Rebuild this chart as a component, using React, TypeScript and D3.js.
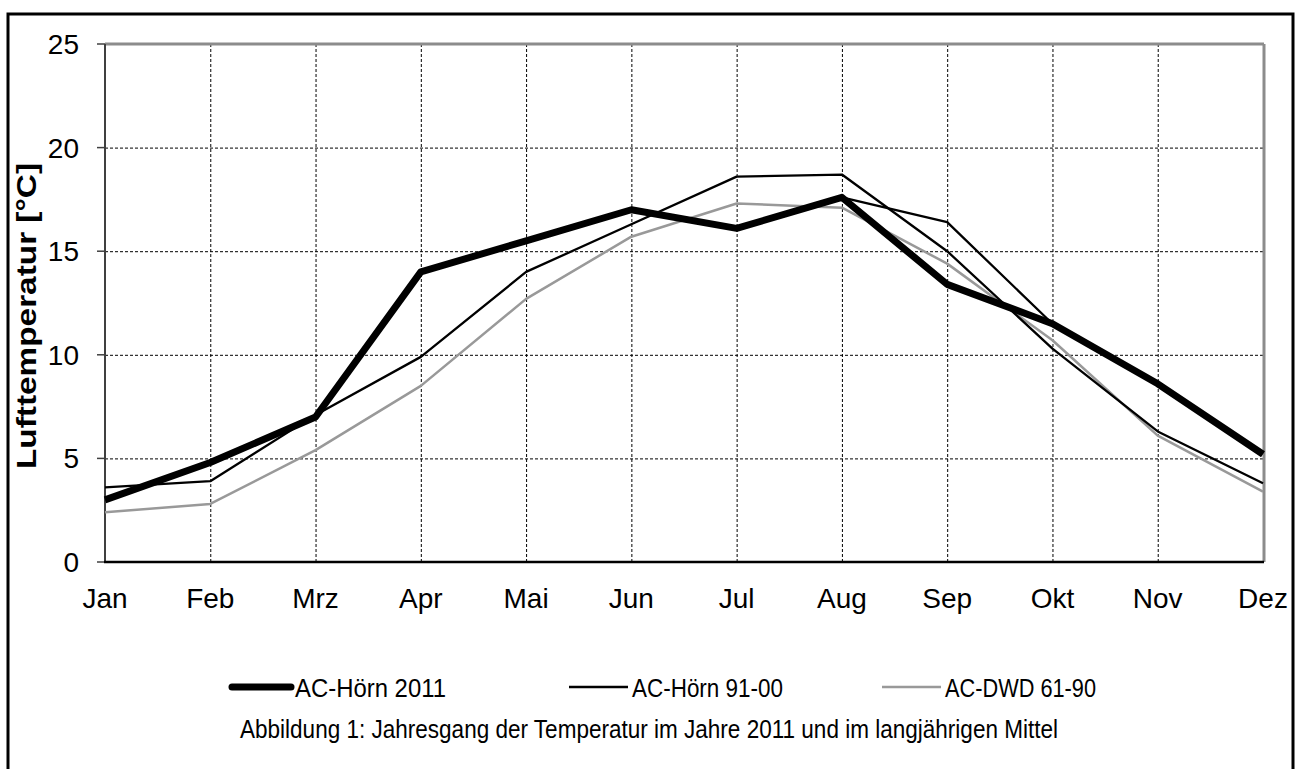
import React, { useEffect, useRef } from 'react';
import * as d3 from 'd3';

const months = ['Jan', 'Feb', 'Mrz', 'Apr', 'Mai', 'Jun', 'Jul', 'Aug', 'Sep', 'Okt', 'Nov', 'Dez'];
const horn2011 = [3.0, 4.8, 7.0, 14.0, 15.5, 17.0, 16.1, 17.6, 13.4, 11.5, 8.6, 5.2];
const horn9100 = [3.6, 3.9, 7.1, 9.9, 14.0, 16.3, 18.6, 18.7, 15.0, 10.3, 6.3, 3.8];
const dwd6190 = [2.4, 2.8, 5.4, 8.5, 12.7, 15.7, 17.3, 17.1, 14.4, 10.7, 6.1, 3.4];
// thin black segment visible between Aug and Okt (no legend entry)
const extraSeg: (number | null)[] = [null, null, null, null, null, null, null, 17.6, 16.4, 11.5, null, null];
const yTicks = [0, 5, 10, 15, 20, 25];

const legendItems = [
  { label: 'AC-Hörn 2011', color: '#000', width: 7 },
  { label: 'AC-Hörn 91-00', color: '#000', width: 2.3 },
  { label: 'AC-DWD 61-90', color: '#999', width: 2.5 },
];

const TempChart: React.FC = () => {
  const svgRef = useRef<SVGSVGElement>(null);

  useEffect(() => {
    if (!svgRef.current) return;
    const svg = d3.select(svgRef.current);
    svg.selectAll('*').remove();

    const left = 105, right = 1263, top = 44, bottom = 562;
    const font = 'Liberation Sans, Arial, sans-serif';

    const x = d3.scalePoint().domain(months).range([left, right]);
    const y = d3.scaleLinear().domain([0, 25]).range([bottom, top]);

    // outer frame
    svg.append('rect')
      .attr('x', 8).attr('y', 14).attr('width', 1285).attr('height', 800)
      .attr('fill', '#fff').attr('stroke', '#000').attr('stroke-width', 3);

    // grid
    const grid = svg.append('g').attr('stroke', '#000').attr('stroke-width', 1).attr('stroke-dasharray', '3,2');
    grid.selectAll('.hg').data(yTicks.filter(t => t > 0 && t < 25)).enter().append('line')
      .attr('x1', left).attr('x2', right).attr('y1', d => y(d) + 0.5).attr('y2', d => y(d) + 0.5);
    grid.selectAll('.vg').data(months.slice(1, -1)).enter().append('line')
      .attr('y1', top).attr('y2', bottom).attr('x1', d => x(d)! + 0.5).attr('x2', d => x(d)! + 0.5);

    // plot border top/right
    svg.append('line').attr('x1', left).attr('x2', right + 1).attr('y1', top).attr('y2', top)
      .attr('stroke', '#8c8c8c').attr('stroke-width', 3);
    svg.append('line').attr('x1', right + 1).attr('x2', right + 1).attr('y1', top).attr('y2', bottom)
      .attr('stroke', '#8c8c8c').attr('stroke-width', 3);

    // y axis
    svg.append('line').attr('x1', left).attr('x2', left).attr('y1', top).attr('y2', bottom)
      .attr('stroke', '#404040').attr('stroke-width', 2);
    svg.selectAll('.yt').data(yTicks).enter().append('line')
      .attr('x1', left - 8).attr('x2', left).attr('y1', d => y(d)).attr('y2', d => y(d))
      .attr('stroke', '#404040').attr('stroke-width', 1.5);
    svg.selectAll('.yl').data(yTicks).enter().append('text')
      .attr('x', 79).attr('y', d => y(d)).attr('dy', '0.36em')
      .attr('text-anchor', 'end').attr('font-family', font).attr('font-size', 28)
      .text(d => d);

    // x axis
    svg.append('line').attr('x1', left - 1).attr('x2', right + 1).attr('y1', bottom).attr('y2', bottom)
      .attr('stroke', '#000').attr('stroke-width', 2.5);
    svg.selectAll('.xl').data(months).enter().append('text')
      .attr('x', d => x(d)!).attr('y', 608)
      .attr('text-anchor', 'middle').attr('font-family', font).attr('font-size', 28)
      .text(d => d);

    // y title
    svg.append('text')
      .attr('transform', 'translate(36,316) rotate(-90)')
      .attr('text-anchor', 'middle').attr('font-family', font).attr('font-size', 27)
      .attr('font-weight', 'bold').attr('textLength', 306).attr('lengthAdjust', 'spacingAndGlyphs')
      .text('Lufttemperatur [°C]');

    const line = d3.line<number | null>()
      .defined(d => d !== null)
      .x((_, i) => x(months[i])!)
      .y(d => y(d as number));

    const drawSeries = (data: (number | null)[], color: string, w: number) =>
      svg.append('path').datum(data)
        .attr('fill', 'none').attr('stroke', color).attr('stroke-width', w)
        .attr('stroke-linejoin', 'round').attr('d', line);

    drawSeries(dwd6190, '#999', 2.5);
    drawSeries(horn9100, '#000', 2.3);
    drawSeries(extraSeg, '#000', 2.3);
    drawSeries(horn2011, '#000', 7);

    // legend
    const legendX = [228, 565, 878];
    const lg = svg.append('g');
    legendItems.forEach((it, i) => {
      const lx = legendX[i];
      lg.append('line').attr('x1', lx + 4).attr('x2', lx + 63).attr('y1', 687).attr('y2', 687)
        .attr('stroke', it.color).attr('stroke-width', it.width)
        .attr('stroke-linecap', i === 0 ? 'round' : 'butt');
      lg.append('text').attr('x', lx + 67).attr('y', 697)
        .attr('font-family', font).attr('font-size', 26)
        .attr('textLength', 151).attr('lengthAdjust', 'spacingAndGlyphs')
        .text(it.label);
    });

    svg.append('text')
      .attr('x', 649).attr('y', 738).attr('text-anchor', 'middle')
      .attr('font-family', font).attr('font-size', 26)
      .attr('textLength', 818).attr('lengthAdjust', 'spacingAndGlyphs')
      .text('Abbildung 1: Jahresgang der Temperatur im Jahre 2011 und im langjährigen Mittel');
  }, []);

  return (
    <svg ref={svgRef} width={1300} height={769}
      style={{ position: 'absolute', left: 0, top: 0, background: '#fff' }} />
  );
};

export default function App() {
  return <TempChart />;
}
